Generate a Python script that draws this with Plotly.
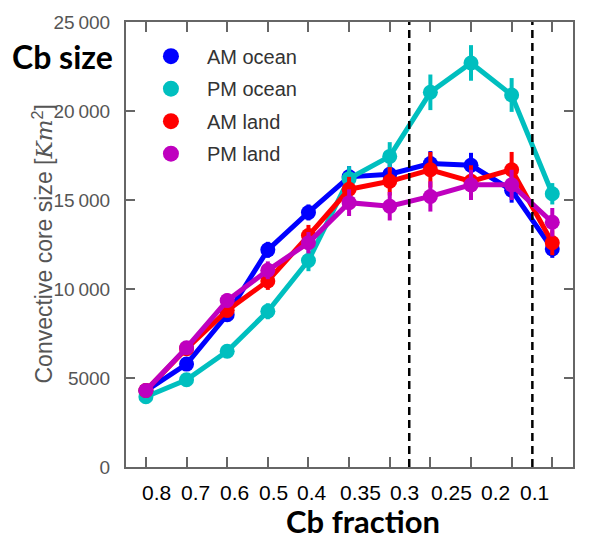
import plotly.graph_objects as go

# Cb fraction bins (tick positions 0..10 along the x axis)
bin_index = list(range(11))
fraction_labels = ["0.8", "0.7", "0.6", "0.5", "0.4", "0.35", "0.3", "0.25", "0.2", "0.1"]
label_positions = [0.26, 1.21, 2.19, 3.14, 4.08, 5.29, 6.37, 7.51, 8.60, 9.57]
divider_positions = [6.48, 9.51]

series_names = ["AM ocean", "PM ocean", "AM land", "PM land"]
series_colors = ["#0000ff", "#00bfbf", "#ff0000", "#bf00bf"]

am_ocean = [4280, 5780, 8550, 12200, 14300, 16300, 16450, 17050, 16950, 15550, 12250]
pm_ocean = [3950, 4900, 6500, 8750, 11600, 16200, 17450, 21050, 22700, 20900, 15350]
am_land = [4300, 6650, 8800, 10450, 13000, 15600, 16050, 16700, 16050, 16700, 12600]
pm_land = [4300, 6700, 9350, 11050, 12600, 14850, 14650, 15200, 15850, 15850, 13750]

am_ocean_err = [250, 300, 350, 450, 450, 600, 600, 700, 700, 700, 500]
pm_ocean_err = [250, 300, 350, 450, 600, 700, 800, 1000, 1000, 950, 600]
am_land_err = [300, 350, 400, 500, 600, 700, 800, 1000, 900, 1000, 700]
pm_land_err = [300, 350, 400, 500, 600, 750, 800, 850, 850, 850, 800]

y_ticks = [0, 5000, 10000, 15000, 20000, 25000]
y_tick_text = ["0", "5000", "10\u2009000", "15\u2009000", "20\u2009000", "25\u2009000"]

values = [am_ocean, pm_ocean, am_land, pm_land]
errors = [am_ocean_err, pm_ocean_err, am_land_err, pm_land_err]

W, H = 589, 543
ML, MR, MT, MB = 126, 16, 18, 76
pw, ph = W - ML - MR, H - MT - MB


def px_to_paper(px, py):
    return (px - ML) / pw, (H - MB - py) / ph


fig = go.Figure()

for name, color, ys, errs in zip(series_names, series_colors, values, errors):
    fig.add_trace(go.Scatter(
        x=bin_index, y=ys, mode="lines+markers", name=name,
        line=dict(color=color, width=5),
        marker=dict(color=color, size=15),
        error_y=dict(type="data", array=errs, color=color, thickness=4, width=0),
        showlegend=False,
    ))

# marker-only legend entries
for name, color in zip(series_names, series_colors):
    fig.add_trace(go.Scatter(
        x=[None], y=[None], mode="markers", name=name, legendgroup=name,
        marker=dict(color=color, size=18),
    ))

for xd in divider_positions:
    fig.add_shape(type="line", xref="x", yref="paper", x0=xd, x1=xd, y0=0, y1=1,
                  line=dict(color="black", width=2.5, dash="8px,5px"))

_, label_y = px_to_paper(0, 493)
for lab, xp in zip(fraction_labels, label_positions):
    fig.add_annotation(x=xp, y=label_y, xref="x", yref="paper", text=lab,
                       showarrow=False, xanchor="center", yanchor="middle",
                       borderpad=0,
                       font=dict(family="Liberation Sans", size=21, color="black"))

bx, by = px_to_paper(363, 542)
fig.add_annotation(x=bx, y=by, xref="paper", yref="paper", text="<b>Cb fraction</b>",
                   showarrow=False, xanchor="center", yanchor="bottom", borderpad=0,
                   font=dict(family="Lato", size=31, color="black"))
sx, sy = px_to_paper(62, 53)
fig.add_annotation(x=sx, y=sy, xref="paper", yref="paper", text="<b>Cb size</b>",
                   showarrow=False, xanchor="center", yanchor="middle",
                   font=dict(family="Lato", size=32, color="black"))

tx, _ = px_to_paper(42, 0)
fig.add_annotation(
    x=tx, y=0.5, xref="paper", yref="paper",
    text='Convective core size [<span style="font-family:DejaVu Serif"><i>Km</i></span><sup>2</sup>]',
    textangle=-90, showarrow=False, xanchor="center", yanchor="middle",
    font=dict(family="Liberation Sans", size=23, color="#555555"),
)

fig.update_layout(
    width=W, height=H,
    margin=dict(l=ML, r=MR, t=MT, b=MB),
    paper_bgcolor="white", plot_bgcolor="white",
    legend=dict(x=0.02, y=0.967, xanchor="left", yanchor="top",
                font=dict(family="Liberation Sans", size=20, color="#333333"),
                bgcolor="rgba(0,0,0,0)", itemwidth=62, tracegroupgap=3.5),
    xaxis=dict(range=[-0.49, 10.51], tickvals=bin_index, showticklabels=False,
               ticks="inside", ticklen=10, tickwidth=2, tickcolor="#666666",
               showline=True, linecolor="#666666", linewidth=2, mirror="allticks",
               showgrid=False, zeroline=False),
    yaxis=dict(range=[0, 25000], tickvals=y_ticks, ticktext=y_tick_text,
               ticks="inside", ticklen=9, tickwidth=2, tickcolor="#666666",
               showline=True, linecolor="#666666", linewidth=2, mirror="allticks",
               showgrid=False, zeroline=False, ticklabelstandoff=10,
               tickfont=dict(family="Liberation Sans", size=19, color="#555555")),
)

fig.write_html("out.html")
